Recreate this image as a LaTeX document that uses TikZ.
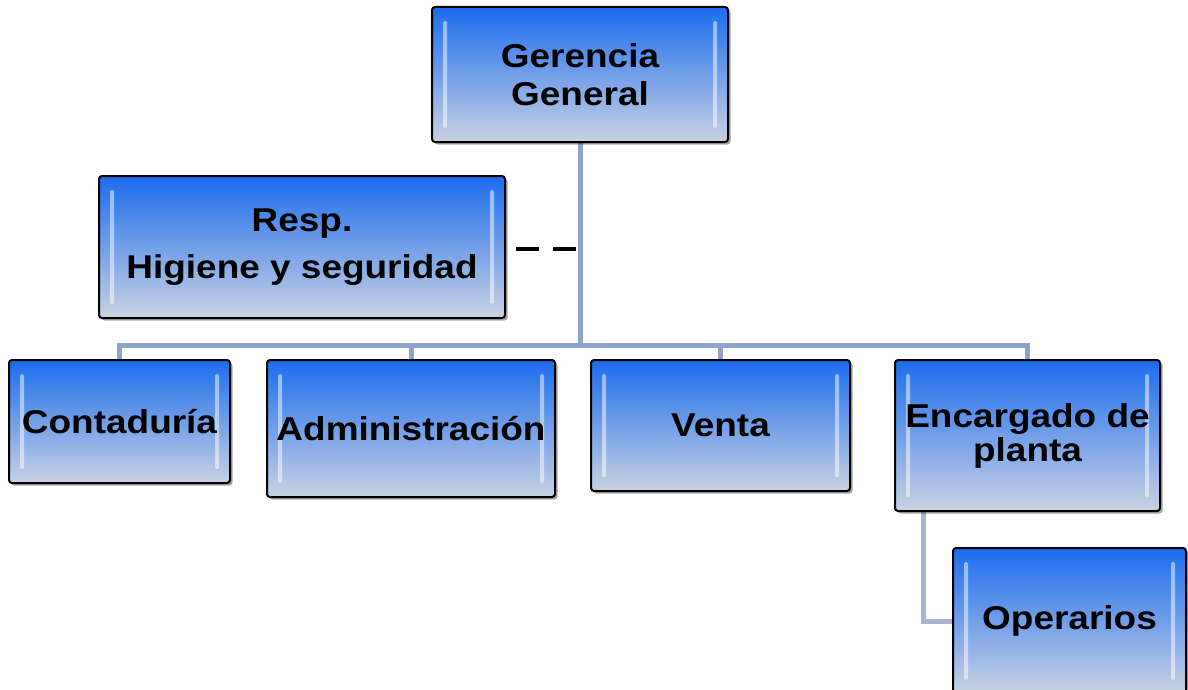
\documentclass[tikz,border=0pt]{standalone}
\usepackage{fontspec}
\setmainfont{Liberation Sans}[FakeStretch=1.12]
\usetikzlibrary{shadows,backgrounds}
\definecolor{bTop}{RGB}{28,108,238}
\definecolor{bMid}{RGB}{105,157,228}
\definecolor{bBot}{RGB}{200,210,226}
\definecolor{conn}{RGB}{142,163,201}
\definecolor{connB}{RGB}{170,181,205}
\begin{document}
\begin{tikzpicture}[x=1pt,y=-1pt,
  box/.style={draw=black, line width=2pt, rounded corners=3pt,
    top color=bTop, middle color=bMid, bottom color=bBot,
    drop shadow={shadow xshift=2.5pt, shadow yshift=-2.5pt, fill=black, opacity=.35},
    font=\bfseries\fontsize{33}{38}\selectfont, align=center, inner sep=0pt,
    path picture={
      \fill[white,opacity=.5,rounded corners=1.5pt]
        ([xshift=11pt,yshift=-14pt]path picture bounding box.north west) rectangle
        ([xshift=15pt,yshift=14pt]path picture bounding box.south west);
      \fill[white,opacity=.5,rounded corners=1.5pt]
        ([xshift=-11pt,yshift=-14pt]path picture bounding box.north east) rectangle
        ([xshift=-15pt,yshift=14pt]path picture bounding box.south east);
    }},
  link/.style={draw=conn, line width=5pt},
  linkb/.style={draw=connB, line width=5pt},
  dashlink/.style={draw=black, line width=4.5pt, dash pattern=on 23pt off 14pt, dash phase=27pt}
]
\useasboundingbox (0,0) rectangle (1188,690);

\node[box, minimum width=296pt, minimum height=135pt] (gg) at (580,74.5) {Gerencia\\General};
\node[box, minimum width=406pt, minimum height=142pt] (resp) at (302,247) {Resp.\\[9pt]Higiene y seguridad};
\node[box, minimum width=221pt, minimum height=123pt] (cont) at (119.5,421.5) {Contadur\'{\i}a};
\node[box, minimum width=288pt, minimum height=137pt] (adm) at (411,428.5) {Administraci\'on};
\node[box, minimum width=259pt, minimum height=131pt] (venta) at (720.5,425.5) {Venta};
\node[box, minimum width=265pt, minimum height=151pt, font=\bfseries\fontsize{33}{34}\selectfont] (enc) at (1027.5,435.5) {Encargado de\\planta};
\node[box, minimum width=233pt, minimum height=146pt] (op) at (1069.5,621) {Operarios};

\coordinate (bus) at (580,345);
\coordinate (opk) at (923,511);

\begin{scope}[on background layer]
  \draw[link] (gg.south) -- (bus);
  \draw[link] (cont.north) |- (bus) -| (enc.north);
  \draw[link] (adm.north) -- (adm.north |- bus);
  \draw[link] (venta.north) -- (venta.north |- bus);
  \draw[linkb] (opk) |- (op.west);
\end{scope}
\draw[dashlink] ([yshift=-2pt]resp.east) -- ([yshift=-2pt]resp.east -| gg.south);
\end{tikzpicture}
\end{document}
